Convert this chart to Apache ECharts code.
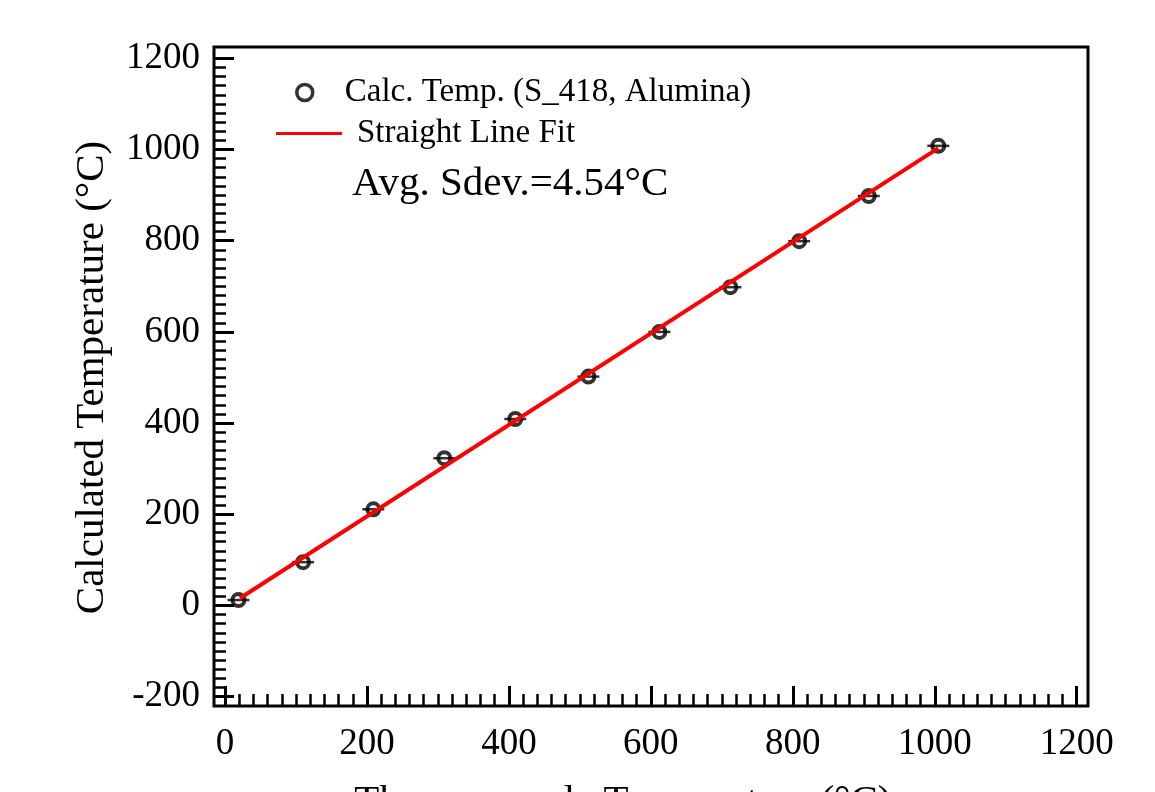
<!DOCTYPE html>
<html><head><meta charset="utf-8">
<script src="https://cdn.jsdelivr.net/npm/echarts@6/dist/echarts.min.js"></script>
<style>html,body{margin:0;padding:0;background:#fff}#c{width:1155px;height:792px}</style>
</head><body><div id="c"></div>
<script>
// ---- data ----
const thermocoupleT = [19, 110, 209, 309, 409, 512, 612, 712, 809, 907, 1005];
const calcT = [12, 95, 211, 323, 409, 502, 600, 698, 799, 898, 1008];
const fitX = [21, 1005];
const fitY = [16, 1003];
const seriesNames = ['Calc. Temp. (S_418, Alumina)', 'Straight Line Fit'];
const annotation = 'Avg. Sdev.=4.54°C';
const xTitle = 'Thermocouple Temperature (°C)';
const yTitle = 'Calculated Temperature (°C)';
const xRange = [0, 1200];
const yRange = [-200, 1200];
const tickStep = 200;

const F = '"Liberation Serif", "Times New Roman", serif';
const pts = thermocoupleT.map((x, i) => [x, calcT[i]]);
const fit = fitX.map((x, i) => [x, fitY[i]]);
const plain = v => String(v);
const tickLabel = {color: '#000', fontFamily: F, fontSize: 37, formatter: plain};
const majorTick = {show: true, inside: true, length: 20, lineStyle: {color: '#000', width: 3}};
const minorTick = {show: true, splitNumber: 10, length: 12, lineStyle: {color: '#000', width: 2.5}};

const chart = echarts.init(document.getElementById('c'));
chart.setOption({
  animation: false,
  backgroundColor: '#fff',
  grid: [
    {left: 214, right: 67, top: 47, bottom: 86, outerBoundsMode: 'none', containLabel: false,
     show: true, borderColor: '#000', borderWidth: 3, backgroundColor: 'transparent'},
    {left: 225, right: 78.3, top: 58.3, bottom: 95.3, outerBoundsMode: 'none', containLabel: false}
  ],
  xAxis: [
    {gridIndex: 0, type: 'value', show: false, min: 0, max: 1},
    {gridIndex: 1, type: 'value', min: xRange[0], max: xRange[1], interval: tickStep, offset: 9.3,
     axisLine: {show: false, onZero: false}, axisTick: majorTick, minorTick: minorTick, splitLine: {show: false},
     axisLabel: Object.assign({margin: 20}, tickLabel),
     name: xTitle, nameLocation: 'middle', nameGap: 76,
     nameTextStyle: {color: '#000', fontFamily: F, fontSize: 41, padding: [0, 56, 0, 0]}}
  ],
  yAxis: [
    {gridIndex: 0, type: 'value', show: false, min: 0, max: 1},
    {gridIndex: 1, type: 'value', min: yRange[0], max: yRange[1], interval: tickStep, offset: 11,
     axisLine: {show: false, onZero: false}, axisTick: majorTick, minorTick: minorTick, splitLine: {show: false},
     axisLabel: Object.assign({margin: 14}, tickLabel),
     name: yTitle, nameLocation: 'middle', nameGap: 101, nameRotate: 90,
     nameTextStyle: {color: '#000', fontFamily: F, fontSize: 41}}
  ],
  legend: [
    {data: [{name: seriesNames[0], icon: 'circle'}], left: 295, top: 76, padding: 0, selectedMode: false,
     itemWidth: 16, itemHeight: 16,
     itemStyle: {color: '#fff', borderColor: '#000', borderWidth: 3.5},
     textStyle: {fontFamily: F, fontSize: 33, color: '#000', padding: [0, 0, 0, 27]}},
    {data: [{name: seriesNames[1], icon: 'rect'}], left: 276, top: 117, padding: 0, selectedMode: false,
     itemWidth: 66, itemHeight: 3,
     itemStyle: {color: '#ff0000', borderWidth: 0},
     textStyle: {fontFamily: F, fontSize: 33, color: '#000', padding: [0, 0, 0, 10]}}
  ],
  graphic: [
    {type: 'text', left: 352, top: 164, style: {text: annotation, font: '41px "Liberation Serif"', fill: '#000'}}
  ],
  series: [
    {name: seriesNames[0], type: 'scatter', xAxisIndex: 1, yAxisIndex: 1, data: pts,
     symbol: 'circle', symbolSize: 12, z: 3,
     itemStyle: {color: '#fff', borderColor: '#000', borderWidth: 4}},
    {name: 'errbar', type: 'scatter', xAxisIndex: 1, yAxisIndex: 1, data: pts, silent: true,
     symbol: 'rect', symbolSize: [22, 2.5], z: 4, itemStyle: {color: '#000'}},
    {name: seriesNames[1], type: 'line', xAxisIndex: 1, yAxisIndex: 1, data: fit,
     symbol: 'none', z: 5, itemStyle: {color: '#ff0000'}, lineStyle: {color: '#ff0000', width: 4}}
  ]
});
</script></body></html>
